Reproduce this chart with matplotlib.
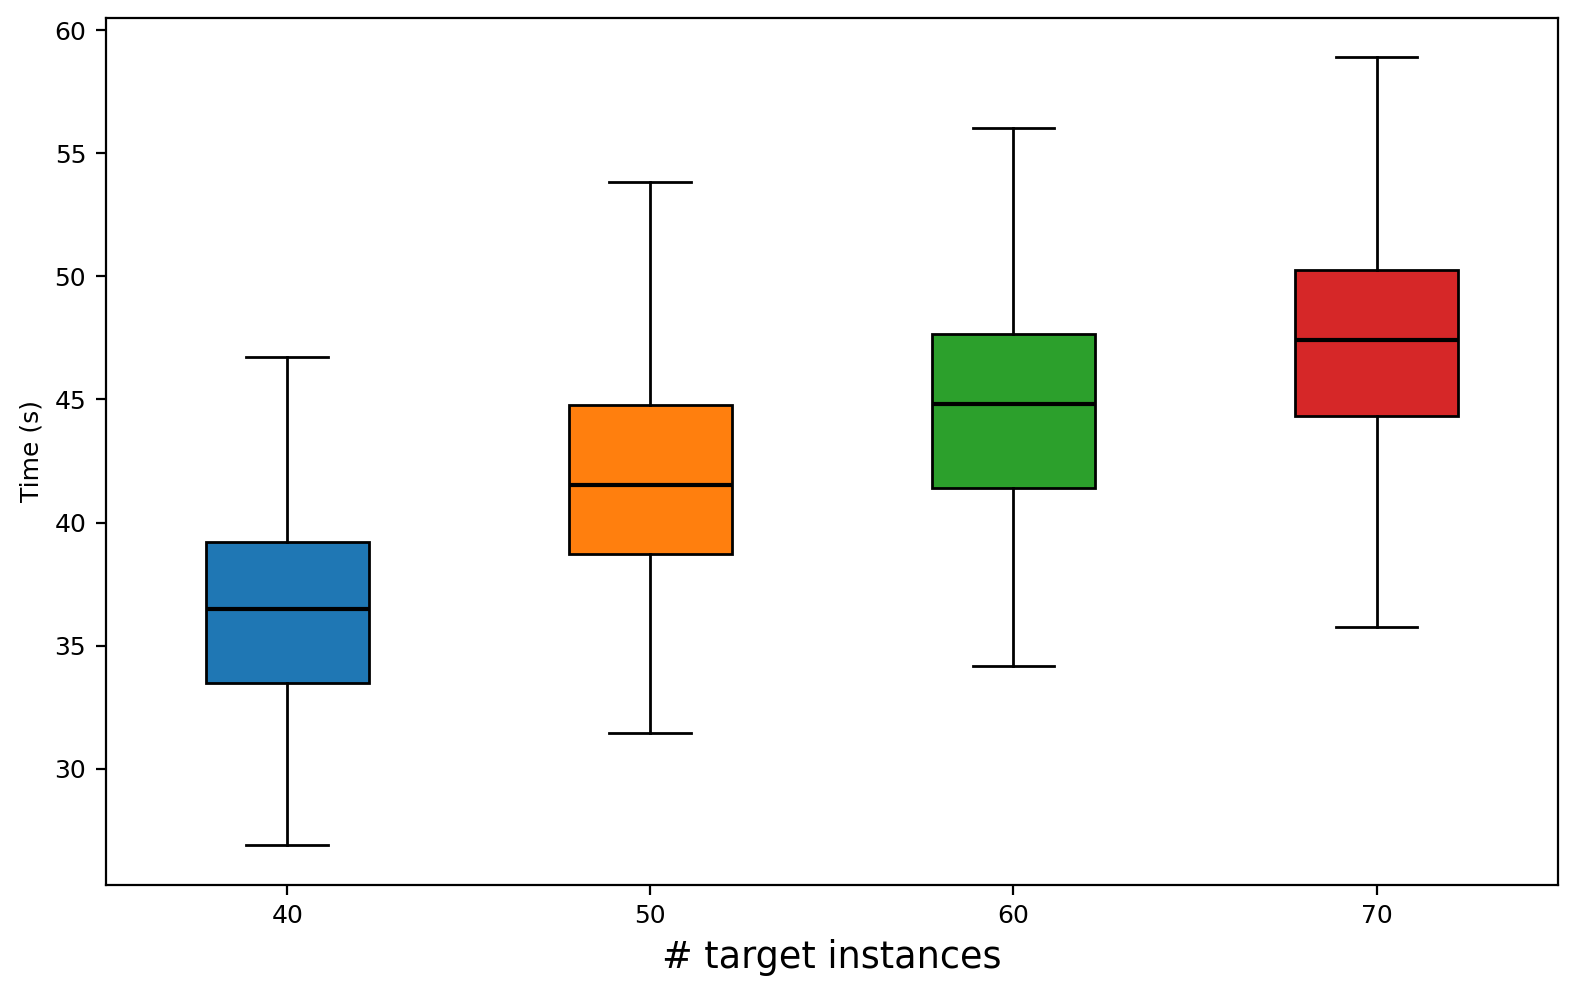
import matplotlib
matplotlib.use('Agg')
import matplotlib.pyplot as plt

instances = [40, 50, 60, 70]
whislo = [26.89, 31.47, 34.18, 35.77]
q1 = [33.48, 38.72, 41.42, 44.33]
med = [36.51, 41.54, 44.82, 47.40]
q3 = [39.21, 44.78, 47.68, 50.26]
whishi = [46.74, 53.82, 56.03, 58.90]
colors = ['#1f77b4', '#ff7f0e', '#2ca02c', '#d62728']

stats = []
for i in range(len(instances)):
    stats.append({'whislo': whislo[i], 'q1': q1[i], 'med': med[i],
                  'q3': q3[i], 'whishi': whishi[i], 'fliers': []})

fig, ax = plt.subplots(figsize=(7.885, 4.965), dpi=200)
bp = ax.bxp(stats, positions=instances, widths=4.5, patch_artist=True,
            showfliers=False,
            medianprops=dict(color='black', linewidth=1.5),
            boxprops=dict(edgecolor='black', linewidth=1),
            whiskerprops=dict(color='black', linewidth=1),
            capprops=dict(color='black', linewidth=1))
for patch, c in zip(bp['boxes'], colors):
    patch.set_facecolor(c)

ax.set_xlim(35, 75)
ax.set_xticks(instances)
ax.set_xticklabels([str(v) for v in instances])
ax.tick_params(labelsize=9)
ax.set_xlabel('# target instances', fontsize=13.2)
ax.set_ylabel('Time (s)', fontsize=9)
fig.subplots_adjust(left=0.067, right=0.988, top=0.982, bottom=0.109)
plt.savefig('out.png', dpi=200)
